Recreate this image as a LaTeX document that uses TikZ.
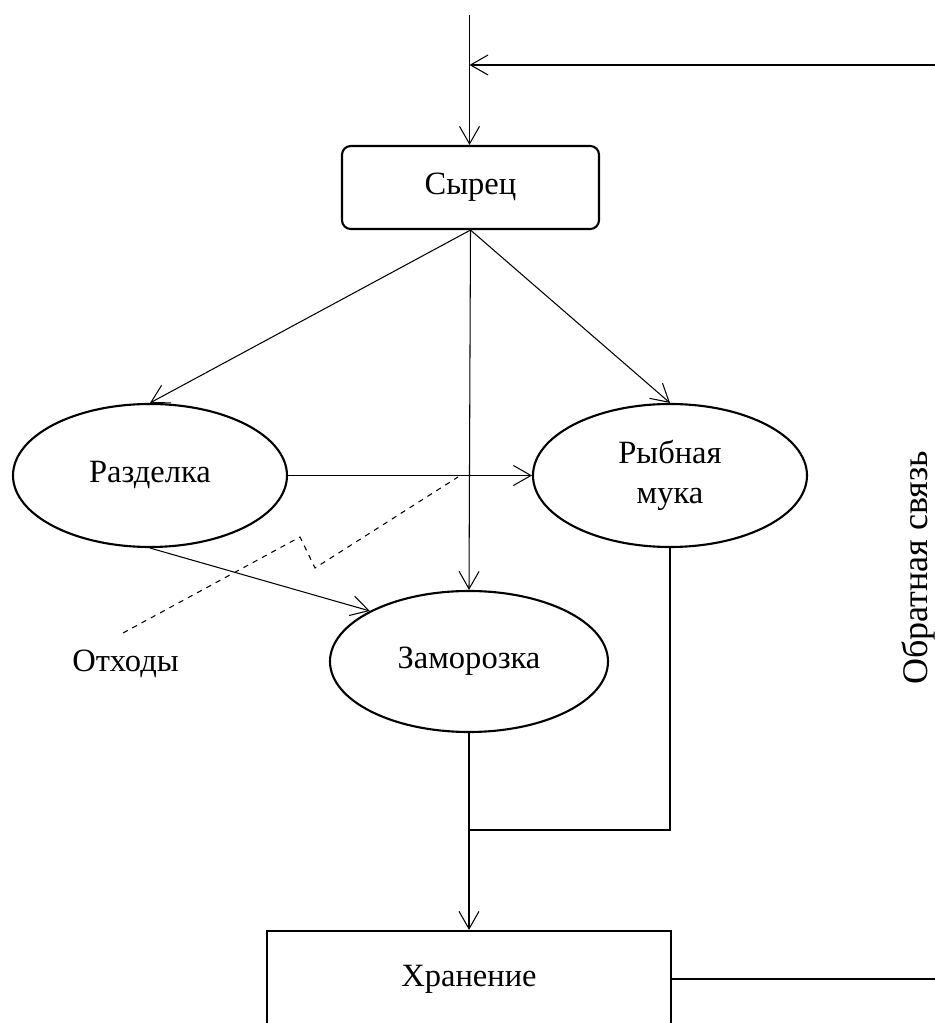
\documentclass[tikz,border=0pt]{standalone}
\usepackage{fontspec}
\setmainfont{Liberation Serif}
\usepackage{tikz}
\usetikzlibrary{arrows.meta, positioning, shapes.geometric, calc}

\begin{document}
\begin{tikzpicture}[
  >={Straight Barb[length=3.5mm, width=4mm]},
  font=\fontsize{18.5}{22.5}\selectfont,
  flow/.style={->, line width=0.6pt},
  connector/.style={line width=0.6pt},
  waste/.style={dashed, line width=0.6pt},
  stepbox/.style={draw, line width=1.2pt, align=center},
  stage/.style={ellipse, draw, line width=1.2pt, align=center, inner sep=0pt,
    minimum width=5.48cm, minimum height=2.86cm}
]
  \useasboundingbox (0,0) rectangle (18.7,20.46);

  % main nodes
  \node[stepbox, rounded corners=5pt, minimum width=5.14cm, minimum height=1.66cm] (syrec) at (9.41,16.71) {Сырец};
  \node[stage] (razdelka) at (3.0,10.95) {Разделка};
  \node[stage] (muka) at (13.4,10.95) {Рыбная\\мука};
  \node[stage, minimum width=5.56cm, minimum height=2.82cm] (zamorozka) at (9.38,7.23) {Заморозка};
  \node[stepbox, minimum width=8.08cm, minimum height=1.92cm] (hranenie) at (9.38,0.88) {Хранение};

  \node (othody) at (2.51,7.18) {Отходы};
  \node[rotate=90, font=\fontsize{20.5}{24}\selectfont] (svyaz) at (18.36,9.1) {Обратная связь};

  \coordinate (input) at (9.39,20.16);
  \coordinate (fbtop) at (18.7,19.16);
  \coordinate (junction) at (9.38,3.86);

  % input and feedback
  \draw[flow] (input) -- (input |- syrec.north);
  \draw[flow] (fbtop) -- (fbtop -| input);
  \draw[connector] (hranenie.east) -- (hranenie.east -| fbtop);

  % from raw material
  \draw[flow] (syrec.south) -- (razdelka.north);
  \draw[flow] (syrec.south) -- (muka.north);
  \draw[flow] (syrec.south) -- (zamorozka.north);

  \draw[flow] (razdelka.east) -- (muka.west);
  \draw[flow] (razdelka.south) -- (zamorozka.153);

  % to storage
  \draw[connector] (zamorozka.south) -- (junction);
  \draw[connector] (muka.south) |- (junction);
  \draw[flow] (junction) -- (hranenie.north);

  % waste
  \draw[waste] (2.46,7.8) -- (6.0,9.72) -- (6.3,9.1) -- (9.16,10.92);
\end{tikzpicture}
\end{document}
